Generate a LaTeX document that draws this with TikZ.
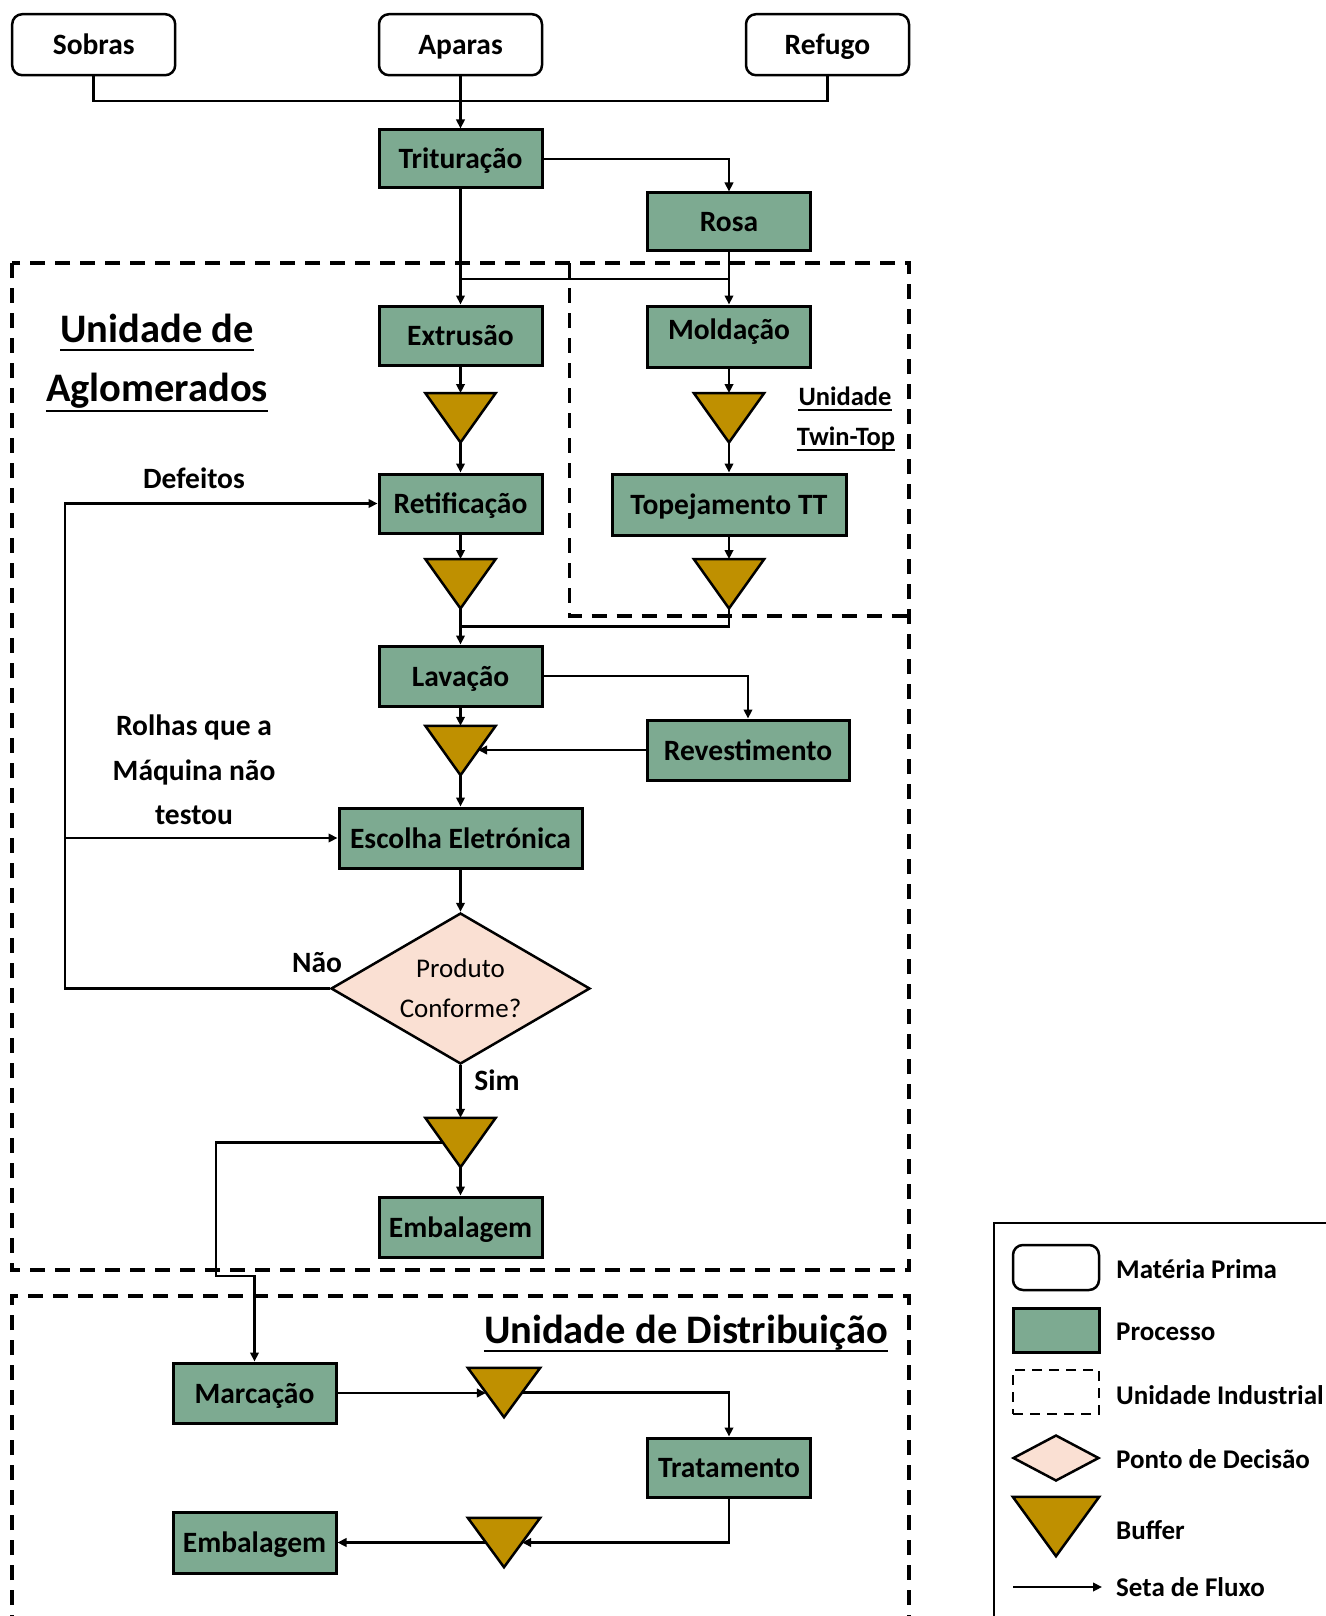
\documentclass[tikz,border=0pt]{standalone}
\usepackage{fontspec}
\setmainfont{Carlito}
\usetikzlibrary{arrows.meta,shapes.geometric,calc}
\definecolor{procgreen}{RGB}{125,170,145}
\definecolor{bufgold}{RGB}{191,144,0}
\definecolor{decpeach}{RGB}{250,224,211}
\newcommand\boxfont{\fontsize{29.5}{35}\selectfont\bfseries}
\newcommand\titfont{\fontsize{40.5}{48}\selectfont\bfseries}
\newcommand\ttfontsm{\fontsize{26.5}{32}\selectfont\bfseries}
\newcommand\decfont{\fontsize{27}{40}\selectfont}
\newcommand\legfont{\fontsize{27}{32}\selectfont\bfseries}
\newcommand\drawbuffer[1]{\draw[buftri] (#1.north west) -- (#1.north east) -- (#1.south) -- cycle;}
\tikzset{
  raw/.style={draw, rounded corners=10pt, line width=2.5pt, fill=white, minimum width=163pt, minimum height=61pt, inner sep=0pt, text height=26pt, text depth=6pt, font=\boxfont},
  proc/.style={draw, fill=procgreen, line width=3pt, minimum width=163pt, minimum height=60pt, inner sep=0pt, text height=26pt, text depth=6pt, font=\boxfont},
  bufbox/.style={minimum width=70pt, minimum height=49pt, inner sep=0pt},
  buftri/.style={draw, fill=bufgold, line width=2.5pt, line join=miter},
  decision/.style={diamond, aspect=1.715, draw, fill=decpeach, line width=2.5pt, inner sep=0pt, minimum width=259pt, minimum height=151pt, align=center, font=\decfont},
  lbl/.style={inner sep=0pt, font=\boxfont, align=center},
  conn/.style={line width=2.6pt},
  flow/.style={line width=2.6pt, -{Triangle[length=9pt,width=8.5pt]}},
  unit/.style={line width=3.5pt, dash pattern=on 15pt off 10pt},
  uline/.style={line width=2.5pt},
  legtext/.style={anchor=west, inner sep=0pt, font=\legfont}
}
\begin{document}
\begin{tikzpicture}[x=1pt,y=-1pt]
\useasboundingbox[fill=white] (0,0) rectangle (1325,1616);

% unit boxes
\draw[unit] (12,263) rectangle (909,1270);
\draw[unit] (569.5,263) -- (569.5,616) -- (909,616);
\draw[unit] (12,1630) -- (12,1296) -- (909,1296) -- (909,1630);

% raw materials
\node[raw] (sobras) at (93.7,44.7) {Sobras};
\node[raw] (aparas) at (460.5,44.7) {Aparas};
\node[raw] (refugo) at (827.5,44.7) {Refugo};

% processes
\node[proc, minimum height=58pt] (tritura) at (460.5,159) {Trituração};
\node[proc, minimum height=57pt] (rosa) at (729,221.5) {Rosa};
\node[proc, minimum height=59pt] (extr) at (460.5,335.5) {Extrusão};
\node[proc, minimum height=61pt] (mold) at (729,336.5) {\raisebox{7pt}{Moldação}};
\node[bufbox] (b1) at (460.5,417.75) {};
\node[bufbox] (b2) at (729,417.75) {};
\node[proc, minimum height=59pt] (retif) at (460.5,503.5) {Retificação};
\node[proc, minimum width=234pt, minimum height=61pt] (topej) at (729,504.5) {Topejamento TT};
\node[bufbox] (b3) at (460.5,583.75) {};
\node[bufbox] (b4) at (729,583.75) {};
\node[proc] (lav) at (460.5,676) {Lavação};
\node[proc, minimum width=202pt] (rev) at (748,750) {Revestimento};
\node[bufbox] (b5) at (460.5,750.5) {};
\node[proc, minimum width=243pt] (esc) at (460.5,838) {Escolha Eletrónica};
\node[decision] (dec) at (460.5,988.5) {Produto\\Conforme?};
\node[bufbox] (b6) at (460.5,1142.5) {};
\node[proc] (emb1) at (460.5,1227) {Embalagem};
\node[proc] (marc) at (254.5,1393) {Marcação};
\node[bufbox, minimum width=72pt] (b7) at (504,1392.5) {};
\node[proc, minimum height=59pt] (trat) at (729,1467.5) {Tratamento};
\node[bufbox, minimum width=72pt] (b8) at (504,1542.5) {};
\node[proc, minimum height=61pt] (emb2) at (254.5,1542.5) {Embalagem};

\foreach \b in {b1,b2,b3,b4,b5,b6,b7,b8} {\drawbuffer{\b}}

% titles
\node[inner sep=0pt, font=\titfont, anchor=base] (t1) at (157,342) {Unidade de};
\node[inner sep=0pt, font=\titfont, anchor=base] (t2) at (157,401) {Aglomerados};
\draw[uline] ([yshift=-8pt]t1.base west) -- ([yshift=-8pt]t1.base east);
\draw[uline] ([yshift=-10pt]t2.base west) -- ([yshift=-10pt]t2.base east);
\node[inner sep=0pt, font=\ttfontsm, anchor=base] (t3) at (845,405.5) {Unidade};
\node[inner sep=0pt, font=\ttfontsm, anchor=base] (t4) at (846,445) {Twin-Top};
\draw[line width=2pt] ([yshift=-4pt]t3.base west) -- ([yshift=-4pt]t3.base east);
\draw[line width=2pt] ([yshift=-4.5pt]t4.base west) -- ([yshift=-4.5pt]t4.base east);
\node[inner sep=0pt, font=\titfont, anchor=base] (t5) at (686,1343) {Unidade de Distribuição};
\draw[uline] ([yshift=-8pt]t5.base west) -- ([yshift=-8pt]t5.base east);

% labels
\node[lbl] (defe) at (194,478) {Defeitos};
\node[lbl, font=\fontsize{29.5}{44.5}\selectfont\bfseries] (rolhas) at (194,770) {Rolhas que a\\Máquina não\\testou};
\node[lbl] (nao) at (317,963) {Não};
\node[lbl] (sim) at (497,1080) {Sim};

% helper coordinates
\coordinate (j1) at (460.5,101);
\coordinate (j2) at (460.5,279);
\coordinate (j3) at (460.5,626.5);
\coordinate (lx) at (65,700);
\coordinate (jx) at (216,1276);
\coordinate (b5r) at ($(b5.north east)!0.5!(b5.south)$);
\coordinate (b6l) at ($(b6.north west)!0.5!(b6.south)$);
\coordinate (b7l) at ($(b7.north west)!0.5!(b7.south)$);
\coordinate (b7r) at ($(b7.north east)!0.5!(b7.south)$);
\coordinate (b8l) at ($(b8.north west)!0.5!(b8.south)$);
\coordinate (b8r) at ($(b8.north east)!0.5!(b8.south)$);

% connectors
\draw[conn] (sobras.south) -- (sobras.south |- j1) -- (refugo.south |- j1) -- (refugo.south);
\draw[flow] (aparas.south) -- (tritura.north);
\draw[flow] (tritura.east) -| (rosa.north);
\draw[flow] (tritura.south) -- (extr.north);
\draw[flow] (rosa.south) -- (mold.north);
\draw[conn] (tritura.south |- j2) -- (rosa.south |- j2);
\draw[flow] (extr.south) -- (b1.north);
\draw[flow] (b1.south) -- (retif.north);
\draw[flow] (mold.south) -- (b2.north);
\draw[flow] (b2.south) -- (b2.south |- topej.north);
\draw[flow] (retif.south) -- (b3.north);
\draw[flow] (topej.south -| b4.north) -- (b4.north);
\draw[conn] (b4.south) -- (b4.south |- j3) -- (j3);
\draw[flow] (b3.south) -- (lav.north);
\draw[flow] (lav.south) -- (b5.north);
\draw[flow] (lav.east) -| (rev.north);
\draw[flow] (rev.west) -- (rev.west -| b5r);
\draw[flow] (b5.south) -- (esc.north);
\draw[flow] (esc.south) -- (dec.north);
\draw[flow] (dec.west) -- (dec.west -| lx) -- (lx |- retif.west) -- (retif.west);
\draw[flow] (lx |- esc.west) -- (esc.west);
\draw[flow] (dec.south) -- (b6.north);
\draw[flow] (b6.south) -- (emb1.north);
\draw[flow] (b6l) -- (b6l -| jx) -- (jx) -- (jx -| marc.north) -- (marc.north);
\draw[flow] (marc.east) -- (marc.east -| b7l);
\draw[flow] (b7r) -| (trat.north);
\draw[flow] (trat.south) |- (b8r);
\draw[flow] (b8l) -- (emb2.east);

% legend
\draw[line width=2pt] (994,1640) -- (994,1223) -- (1340,1223);
\node[raw, minimum width=86pt, minimum height=45pt, text height=0pt, text depth=0pt] (lg1) at (1056,1267.5) {};
\node[proc, minimum width=86pt, minimum height=44pt, text height=0pt, text depth=0pt] (lg2) at (1056,1330) {};
\node[draw, line width=2.5pt, dash pattern=on 10pt off 7pt, minimum width=86pt, minimum height=44pt, inner sep=0pt] (lg3) at (1056,1392) {};
\node[diamond, draw, fill=decpeach, line width=2.5pt, inner sep=0pt, minimum width=86pt, minimum height=46pt] (lg4) at (1056,1458) {};
\node[bufbox, minimum width=86pt, minimum height=59pt] (lg5) at (1056,1526.5) {};
\drawbuffer{lg5}
\coordinate (lg6a) at (1013,1587);
\coordinate (lg6b) at (1102,1587);
\draw[flow] (lg6a) -- (lg6b);
\node[legtext] (lt1) at (1116,1269) {Matéria Prima};
\node[legtext] (lt2) at (1116,1332) {Processo};
\node[legtext] (lt3) at (1116,1395) {Unidade Industrial};
\node[legtext] (lt4) at (1116,1459) {Ponto de Decisão};
\node[legtext] (lt5) at (1116,1530) {Buffer};
\node[legtext] (lt6) at (1116,1587) {Seta de Fluxo};
\end{tikzpicture}
\end{document}
